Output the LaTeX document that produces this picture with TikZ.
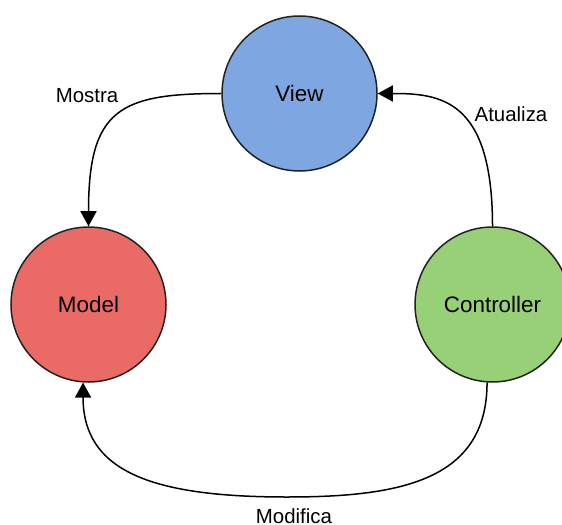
\documentclass[tikz,border=0pt]{standalone}
\usepackage{fontspec}
\setmainfont{Liberation Sans}
\usetikzlibrary{arrows.meta}
\definecolor{viewblue}{HTML}{7EA6E0}
\definecolor{modelred}{HTML}{EA6B66}
\definecolor{ctrlgreen}{HTML}{97D077}
\definecolor{rim}{HTML}{222222}
\begin{document}
\begin{tikzpicture}[x=1bp,y=-1bp,
  part/.style={circle, draw=rim, line width=1.5bp, minimum size=155bp, inner sep=0pt,
    font=\fontsize{22.5}{27}\selectfont},
  link/.style={line width=1.5bp, -{Triangle[length=15bp,width=16bp]}},
  caption/.style={font=\fontsize{20.5}{24}\selectfont, inner sep=0pt}]
  \clip (0,0) rectangle (562,525);
  \useasboundingbox (0,0) rectangle (562,525);

  % the three MVC parts
  \node[part, fill=viewblue]  (view)  at (299.5,93.5)  {View};
  \node[part, fill=modelred]  (model) at (88.5,304.5)  {Model};
  \node[part, fill=ctrlgreen] (ctrl)  at (492.5,304.5) {Controller};

  % connectors
  \draw[link] (view.west) .. controls +(-102,0) and +(0,-117) .. (model.north);
  \draw[link] (ctrl.north) .. controls +(0,-127) and +(63,0) .. (view.east);
  \coordinate (low) at (287,497);
  \draw[link] (ctrl.-94) .. controls +(0,98) and +(113,0) .. (low)
              .. controls +(-137,0) and +(0,88) .. (model.-94);

  % connector labels
  \node[caption] (mostra)   at (87,96)   {Mostra};
  \node[caption] (atualiza) at (511,114) {Atualiza};
  \node[caption] (modifica) at (294,516) {Modifica};
\end{tikzpicture}
\end{document}
